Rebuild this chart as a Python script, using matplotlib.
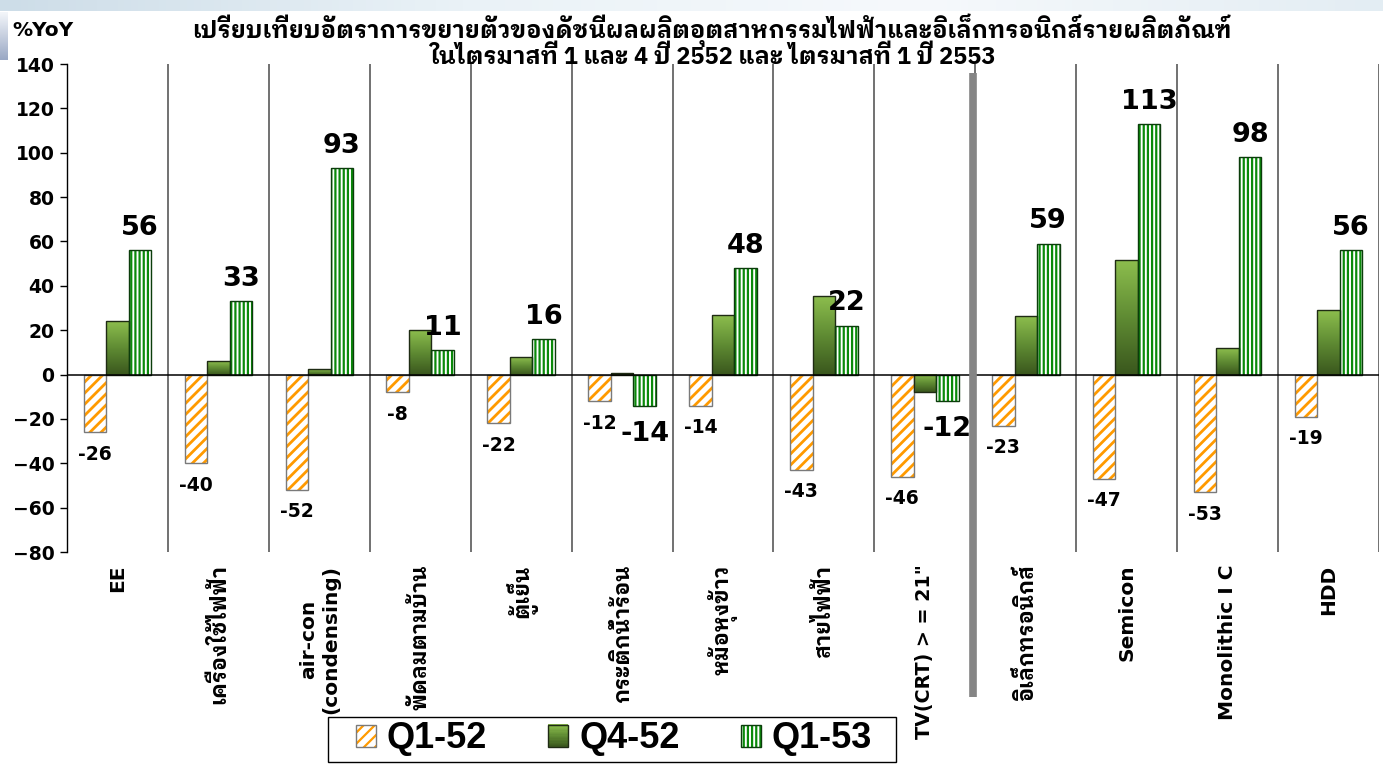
import numpy as np
import matplotlib
matplotlib.use("Agg")
import matplotlib.pyplot as plt
from matplotlib.patches import Patch, Rectangle
from matplotlib.colors import LinearSegmentedColormap
from matplotlib.legend_handler import HandlerTuple, HandlerBase
import matplotlib.transforms as mtransforms

# data (%YoY)
categories = ["EE", "เครื่องใช้ไฟฟ้า", "air-con\n(condensing)", "พัดลมตามบ้าน", "ตู้เย็น",
              "กระติกน้ำร้อน", "หม้อหุงข้าว", "สายไฟฟ้า", 'TV(CRT) > = 21"',
              "อิเล็กทรอนิกส์", "Semicon", "Monolithic I C", "HDD"]
q1_52 = [-26, -40, -52, -8, -22, -12, -14, -43, -46, -23, -47, -53, -19]
q4_52 = [24, 6, 2.5, 20, 8, 0.5, 27, 35.5, -8, 26.5, 51.5, 12, 29]
q1_53 = [56, 33, 93, 11, 16, -14, 48, 22, -12, 59, 113, 98, 56]
series_names = ["Q1-52", "Q4-52", "Q1-53"]
yticks = list(range(-80, 141, 20))

title1 = "เปรียบเทียบอัตราการขยายตัวของดัชนีผลผลิตอุตสาหกรรมไฟฟ้าและอิเล็กทรอนิกส์รายผลิตภัณฑ์"
title2 = "ในไตรมาสที่ 1 และ 4 ปี 2552 และ ไตรมาสที่ 1 ปี 2553"

THAI = "IBM Plex Sans Thai Looped"
plt.rcParams["font.family"] = ["DejaVu Sans", THAI]
plt.rcParams["font.weight"] = "bold"
plt.rcParams["hatch.linewidth"] = 1.6

gcmap = LinearSegmentedColormap.from_list("g", ["#3a571d", "#5f8b33", "#8cbd4d"])


def hatch_lw(bars, lw):
    for p in bars:
        if hasattr(p, "set_hatch_linewidth"):
            p.set_hatch_linewidth(lw)


class HandlerGrad(HandlerBase):
    # legend key with the same dark-to-light fill as the Q4-52 bars
    def create_artists(self, legend, orig_handle, xdescent, ydescent, width, height, fontsize, trans):
        n = 16
        arts = []
        for i in range(n):
            arts.append(Rectangle((-xdescent, -ydescent + height * i / n), width, height / n + 0.3,
                                  facecolor=gcmap((i + 0.5) / n), lw=0, transform=trans))
        arts.append(Rectangle((-xdescent, -ydescent), width, height, facecolor="none",
                              edgecolor="#1f2b14", lw=1, transform=trans))
        return arts


W, H = 1383, 764
fig = plt.figure(figsize=(W / 100, H / 100), dpi=100)

# slide background bits
bg = fig.add_axes([0, 1 - 11 / H, 1, 11 / H], zorder=-5)
bg.imshow(np.linspace(0, 1, 200).reshape(1, -1), aspect="auto",
          cmap=LinearSegmentedColormap.from_list("b", ["#cddde8", "#eaf2f7", "#f6f9fc", "#e3edf3"]))
bg.axis("off")
side = fig.add_axes([0, 1 - 60 / H, 8 / W, 48 / H], zorder=-5)
side.imshow(np.linspace(0, 1, 50).reshape(-1, 1), aspect="auto",
            cmap=LinearSegmentedColormap.from_list("s", ["#f3f6fa", "#9aa8c4"]))
side.axis("off")

ax = fig.add_axes([67 / W, 1 - 552 / H, (1379 - 67) / W, (552 - 64) / H])
x = np.arange(len(categories))
bw = 0.223

# Q1-52: orange diagonal hatch, grey outline
b1 = ax.bar(x - bw, q1_52, bw, facecolor="white", edgecolor="#ff9a00", linewidth=0, hatch="///", zorder=2)
hatch_lw(b1, 2.0)
ax.bar(x - bw, q1_52, bw, facecolor="none", edgecolor="#7a7a7a", linewidth=1, zorder=3)

# Q4-52: green gradient
b2 = ax.bar(x, q4_52, bw, facecolor="none", edgecolor="#1f2b14", linewidth=1, zorder=3)
grad = np.linspace(0, 1, 64).reshape(-1, 1)
for p in b2:
    x0, w = p.get_x(), p.get_width()
    y0, y1 = sorted([p.get_y(), p.get_y() + p.get_height()])
    ax.imshow(grad, extent=[x0, x0 + w, y0, y1], origin="lower", cmap=gcmap,
              aspect="auto", zorder=2, interpolation="bilinear")

# Q1-53: green vertical stripes
b3 = ax.bar(x + bw, q1_53, bw, facecolor="white", edgecolor="#0a8a0a", linewidth=0, hatch="||||", zorder=2)
hatch_lw(b3, 1.6)
ax.bar(x + bw, q1_53, bw, facecolor="none", edgecolor="#0b3d0b", linewidth=1, zorder=3)

ax.set_xlim(-0.5, len(categories) - 0.5)
ax.set_ylim(-80, 140)
ax.set_yticks(yticks)
ax.tick_params(axis="y", direction="out", length=5, width=1, pad=4, labelsize=13.5)
ax.set_xticks(x)
ax.set_xticklabels(categories, rotation=90, fontsize=14.5, va="top", ha="center",
                   multialignment="center")
for lab, c in zip(ax.get_xticklabels(), categories):
    if not c.isascii():
        lab.set_fontsize(15.5)
    if c.startswith("TV"):
        lab.set_fontsize(13.8)
ax.tick_params(axis="x", length=0, pad=9)
for s in ["top", "right", "bottom"]:
    ax.spines[s].set_visible(False)
ax.spines["left"].set_linewidth(1)
ax.axhline(0, color="black", lw=1.1, zorder=4)
for k in range(len(categories)):
    ax.axvline(k + 0.5, color="#4a4a4a", lw=1.1, zorder=1)

# thick grey divider between electrical and electronics groups
trans = mtransforms.blended_transform_factory(ax.transData, ax.transAxes)
ax.plot([8.48, 8.48], [0.982, -0.297], transform=trans, color="#858585", lw=5.5,
        solid_capstyle="butt", clip_on=False, zorder=5)

# value labels
for xi, v in zip(x, q1_52):
    ax.annotate(f"{v:g}", (xi - bw, v), xytext=(0, -9), textcoords="offset points",
                ha="center", va="top", fontsize=13.5, zorder=6)
for xi, v in zip(x, q1_53):
    if v >= 0:
        ax.annotate(f"{v:g}", (xi + bw, v), xytext=(0, 11), textcoords="offset points",
                    ha="center", va="baseline", fontsize=19.5, zorder=6)
    else:
        ax.annotate(f"{v:g}", (xi + bw, v), xytext=(0, -11), textcoords="offset points",
                    ha="center", va="top", fontsize=19.5, zorder=6)

fig.text(12 / W, 1 - 30 / H, "%YoY", fontsize=14.5, va="center", ha="left")
fig.text(712 / W, 1 - 30 / H, title1, fontsize=17, va="center", ha="center", family=[THAI])
fig.text(712 / W, 1 - 57 / H, title2, fontsize=17, va="center", ha="center", family=[THAI])

# legend
fig.patches.append(Rectangle((328 / W, 2 / H), 568 / W, 45 / H, transform=fig.transFigure,
                             facecolor="white", edgecolor="black", lw=1, zorder=4))
h1 = (Patch(facecolor="white", edgecolor="#ff9a00", hatch="///", lw=0),
      Patch(facecolor="none", edgecolor="#7a7a7a", lw=1))
h2 = Patch(facecolor="#5f8b33", edgecolor="#1f2b14", lw=1)
h3 = (Patch(facecolor="white", edgecolor="#0a8a0a", hatch="||||", lw=0),
      Patch(facecolor="none", edgecolor="#0b3d0b", lw=1))
leg = fig.legend([h1, h2, h3], series_names, loc="center", bbox_to_anchor=(614 / W, 1 - 739 / H),
                 ncol=3, frameon=False,
                 handler_map={tuple: HandlerTuple(ndivide=1), h2: HandlerGrad()},
                 prop={"family": "Liberation Sans", "weight": "bold", "size": 26},
                 handlelength=0.55, handleheight=0.55, handletextpad=0.3, columnspacing=1.7,
                 borderpad=0, borderaxespad=0)
leg.set_zorder(5)

fig.savefig("out.png", dpi=100)
